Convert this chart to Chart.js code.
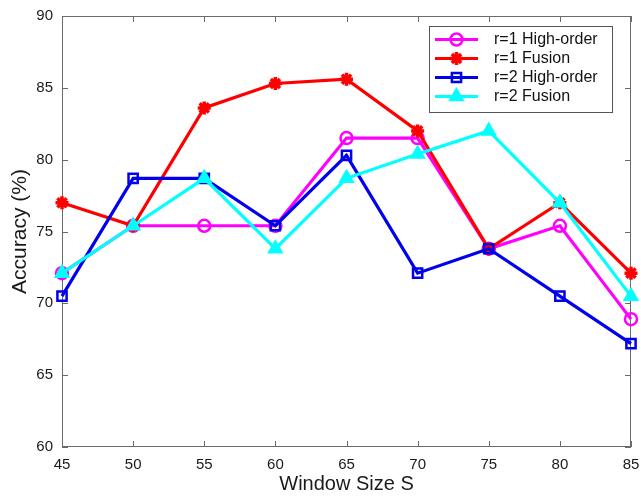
<!DOCTYPE html>
<html>
<head>
<meta charset="utf-8">
<script src="https://cdn.jsdelivr.net/npm/chart.js@4.4.1/dist/chart.umd.min.js"></script>
<style>
html,body{margin:0;padding:0;background:#fff;}
#wrap{width:641px;height:496px;position:relative;}
</style>
</head>
<body>
<div id="wrap"><canvas id="c" width="641" height="496"></canvas></div>
<script>
const windowSizes = [45, 50, 55, 60, 65, 70, 75, 80, 85];
const r1HighOrder = [72.1, 75.4, 75.4, 75.4, 81.5, 81.5, 73.8, 75.4, 68.9];
const r1Fusion    = [77.0, 75.4, 83.6, 85.3, 85.6, 82.0, 73.8, 77.0, 72.1];
const r2HighOrder = [70.5, 78.7, 78.7, 75.4, 80.3, 72.1, 73.8, 70.5, 67.2];
const r2Fusion    = [72.1, 75.4, 78.7, 73.8, 78.7, 80.4, 82.0, 77.0, 70.5];
const seriesNames = ['r=1 High-order', 'r=1 Fusion', 'r=2 High-order', 'r=2 Fusion'];
const xTicks = [45, 50, 55, 60, 65, 70, 75, 80, 85];
const yTicks = [60, 65, 70, 75, 80, 85, 90];

const FONT = "'Liberation Sans', Arial, sans-serif";
const AXIS = '#6b6b6b';

function pts(vals){ return windowSizes.map((x,i)=>({x:x, y:vals[i]})); }

const styles = [
  {color:'#ff00ff', pointStyle:'circle', radius:6, fill:'rgba(0,0,0,0)', bw:2.5, order:4},
  {color:'#ff0000', pointStyle:'star', radius:6.5, fill:'#ff0000', bw:3.5, order:3},
  {color:'#0000ee', pointStyle:'rect', radius:6.5, fill:'rgba(0,0,0,0)', bw:2.5, order:2},
  {color:'#00ffff', pointStyle:'triangle', radius:7.5, fill:'#00ffff', bw:2, order:1}
];
const allVals = [r1HighOrder, r1Fusion, r2HighOrder, r2Fusion];

const datasets = allVals.map((v,i)=>({
  label: seriesNames[i],
  data: pts(v),
  borderColor: styles[i].color,
  backgroundColor: styles[i].color,
  borderWidth: 3.2,
  pointStyle: styles[i].pointStyle,
  pointRadius: styles[i].radius,
  pointHoverRadius: styles[i].radius,
  pointBackgroundColor: styles[i].fill,
  pointBorderColor: styles[i].color,
  pointBorderWidth: styles[i].bw,
  tension: 0,
  clip: false,
  order: styles[i].order
}));

const frame = {
  id:'frame',
  beforeDatasetsDraw(chart){
    const {ctx, chartArea:a, scales:{x, y}} = chart;
    ctx.save();
    ctx.strokeStyle = AXIS;
    ctx.lineWidth = 1;
    ctx.strokeRect(a.left+0.5, a.top+0.5, a.right-a.left-1, a.bottom-a.top-1);
    const tl = 6;
    ctx.beginPath();
    xTicks.forEach(t=>{
      const px = Math.round(x.getPixelForValue(t))+0.5;
      ctx.moveTo(px, a.bottom); ctx.lineTo(px, a.bottom-tl);
      ctx.moveTo(px, a.top); ctx.lineTo(px, a.top+tl);
    });
    yTicks.forEach(t=>{
      const py = Math.round(y.getPixelForValue(t))+0.5;
      ctx.moveTo(a.left, py); ctx.lineTo(a.left+tl, py);
      ctx.moveTo(a.right, py); ctx.lineTo(a.right-tl, py);
    });
    ctx.stroke();
    ctx.restore();
  }
};

const legendBox = {
  id:'legendBox',
  afterDraw(chart){
    const ctx = chart.ctx;
    const bx = 429, by = 26, bw = 183, bh = 86;
    ctx.save();
    ctx.fillStyle = '#fff';
    ctx.fillRect(bx, by, bw, bh);
    ctx.strokeStyle = '#555';
    ctx.lineWidth = 1;
    ctx.strokeRect(bx+0.5, by+0.5, bw, bh);
    const rows = [39.5, 58.5, 77.5, 96.5];
    chart.data.datasets.forEach((ds,i)=>{
      const yy = rows[i];
      ctx.strokeStyle = ds.borderColor;
      ctx.lineWidth = 3.2;
      ctx.beginPath(); ctx.moveTo(435, yy); ctx.lineTo(478, yy); ctx.stroke();
      ctx.fillStyle = ds.pointBackgroundColor;
      ctx.strokeStyle = ds.pointBorderColor;
      ctx.lineWidth = ds.pointBorderWidth;
      Chart.helpers.drawPoint(ctx, {pointStyle: ds.pointStyle, radius: ds.pointRadius, borderWidth: ds.pointBorderWidth, rotation:0}, 456.5, yy);
      ctx.fillStyle = '#111';
      ctx.font = '16px ' + FONT;
      ctx.textBaseline = 'middle';
      ctx.textAlign = 'left';
      ctx.fillText(ds.label, 494, yy+0.5);
    });
    ctx.restore();
  }
};

new Chart(document.getElementById('c'), {
  type:'line',
  data:{datasets},
  options:{
    responsive:false,
    animation:false,
    devicePixelRatio:1,
    layout:{padding:{top:16, right:10, left:0, bottom:0}},
    plugins:{legend:{display:false}, tooltip:{enabled:false}},
    scales:{
      x:{
        type:'linear', min:45, max:85,
        afterBuildTicks(s){ s.ticks = xTicks.map(v=>({value:v})); },
        afterFit(s){ s.height = 49; s.paddingLeft = 0; s.paddingRight = 0; },
        grid:{display:false, drawTicks:false},
        border:{display:false},
        ticks:{color:'#1a1a1a', font:{family:FONT, size:15}, padding:9, maxRotation:0, autoSkip:false},
        title:{display:true, text:'Window Size S', color:'#1a1a1a', font:{family:FONT, size:20}, padding:{top:0, bottom:0}}
      },
      y:{
        type:'linear', min:60, max:90,
        afterBuildTicks(s){ s.ticks = yTicks.map(v=>({value:v})); },
        afterFit(s){ s.width = 62; s.paddingTop = 0; s.paddingBottom = 0; },
        grid:{display:false, drawTicks:false},
        border:{display:false},
        ticks:{color:'#1a1a1a', font:{family:FONT, size:15}, padding:9},
        title:{display:true, text:'Accuracy (%)', color:'#1a1a1a', font:{family:FONT, size:21}, padding:{top:8, bottom:0}}
      }
    }
  },
  plugins:[frame, legendBox]
});
</script>
</body>
</html>
